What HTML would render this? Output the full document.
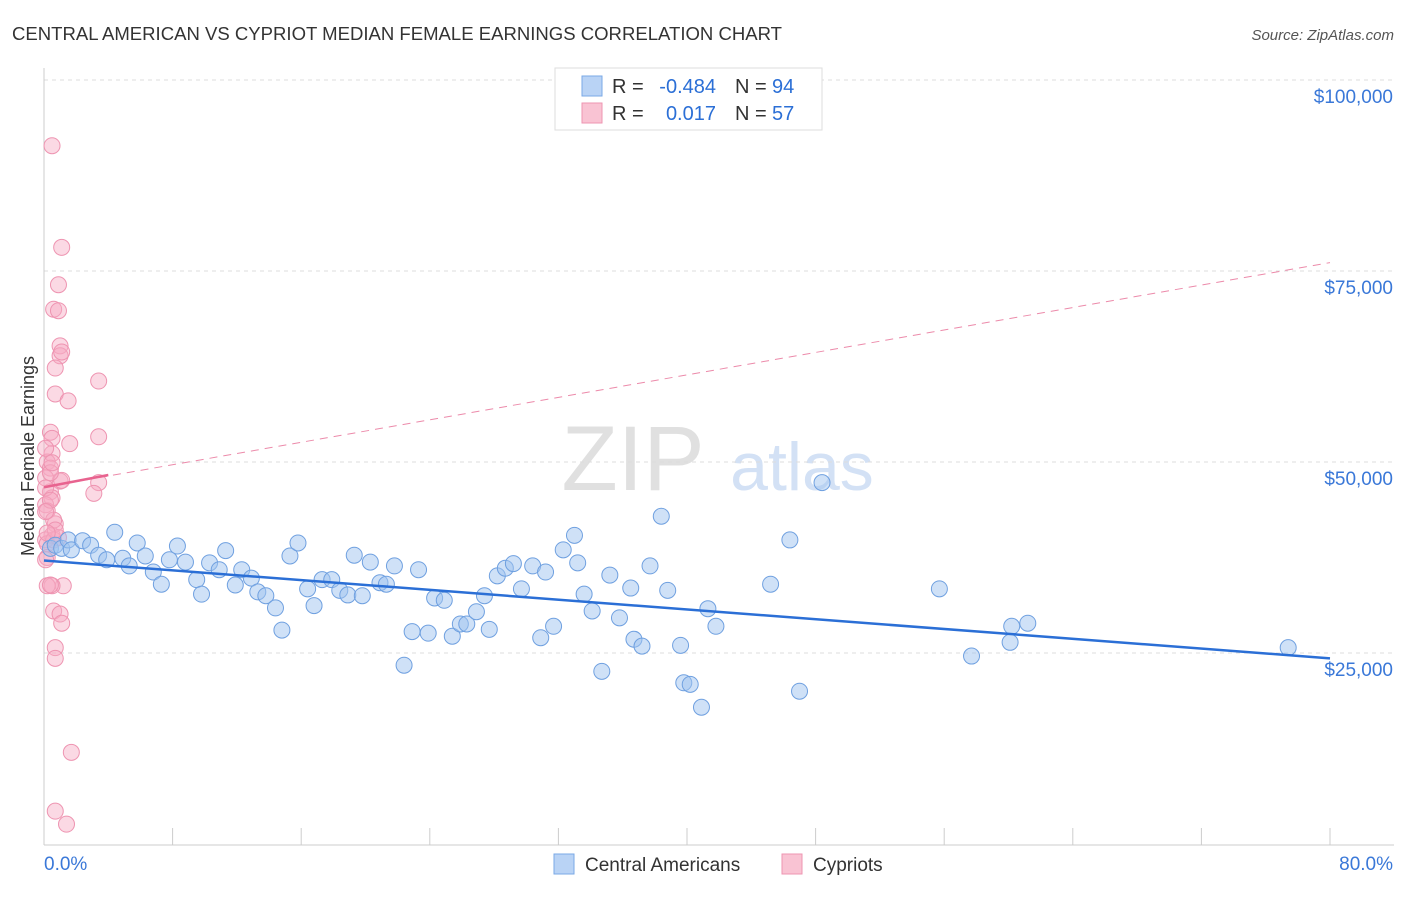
<!DOCTYPE html>
<html><head><meta charset="utf-8"><style>
body{margin:0;background:#fff;font-family:"Liberation Sans",sans-serif}
svg text{font-family:"Liberation Sans",sans-serif}
</style></head><body>
<svg id="chart" width="1406" height="892" xmlns="http://www.w3.org/2000/svg">
<text x="12" y="40" font-size="18" fill="#333" textLength="770" lengthAdjust="spacingAndGlyphs">CENTRAL AMERICAN VS CYPRIOT MEDIAN FEMALE EARNINGS CORRELATION CHART</text>
<text x="1394" y="40" font-size="15" fill="#555" text-anchor="end" font-style="italic">Source: ZipAtlas.com</text>
<text x="633" y="490" font-size="92" fill="#e0e0e0" text-anchor="middle" font-family="Liberation Serif">ZIP</text>
<text x="802" y="490" font-size="68" fill="#d3e1f5" text-anchor="middle">atlas</text>
<g id="grid"></g><g id="axes"></g><g id="trends"></g><g id="pts"></g>
<text transform="translate(34,456) rotate(-90)" font-size="18" fill="#333" text-anchor="middle">Median Female Earnings</text>
<g>
<rect x="555" y="68" width="267" height="62" fill="#fff" stroke="#ddd"/>
<rect x="582" y="76" width="20" height="20" fill="#b9d3f5" stroke="#7aa8e6"/>
<rect x="582" y="103" width="20" height="20" fill="#f9c3d3" stroke="#ee94b1"/>
<text x="612" y="93" font-size="20" fill="#333">R =</text>
<text x="716" y="93" font-size="20" fill="#2b6fd6" text-anchor="end">-0.484</text>
<text x="735" y="93" font-size="20" fill="#333">N =</text>
<text x="772" y="93" font-size="20" fill="#2b6fd6">94</text>
<text x="612" y="120" font-size="20" fill="#333">R =</text>
<text x="716" y="120" font-size="20" fill="#2b6fd6" text-anchor="end">0.017</text>
<text x="735" y="120" font-size="20" fill="#333">N =</text>
<text x="772" y="120" font-size="20" fill="#2b6fd6">57</text>
</g>
<g>
<rect x="554" y="854" width="20" height="20" fill="#b9d3f5" stroke="#7aa8e6"/>
<text x="585" y="871" font-size="19" fill="#333">Central Americans</text>
<rect x="782" y="854" width="20" height="20" fill="#f9c3d3" stroke="#ee94b1"/>
<text x="813" y="871" font-size="19" fill="#333">Cypriots</text>
</g>
</svg>
<script>
const yTicks=[25000,50000,75000,100000];
const yTickLabels=["$25,000","$50,000","$75,000","$100,000"];
const xLabels=["0.0%","80.0%"];
const blueX=[0.4,0.7,1.1,1.5,1.7,2.4,2.9,3.4,3.9,4.4,4.9,5.3,5.8,6.3,6.8,7.3,7.8,8.3,8.8,9.5,9.8,10.3,10.9,11.3,11.9,12.3,12.9,13.3,13.8,14.4,14.8,15.3,15.8,16.4,16.8,17.3,17.9,18.4,18.9,19.3,19.8,20.3,20.9,21.3,21.8,22.4,22.9,23.3,23.9,24.3,24.9,25.4,25.9,26.3,26.9,27.4,27.7,28.2,28.7,29.2,29.7,30.4,30.9,31.2,31.7,32.3,33.0,33.2,33.6,34.1,34.7,35.2,35.8,36.5,36.7,37.2,37.7,38.4,38.8,39.6,39.8,40.2,40.9,41.3,41.8,45.2,46.4,47.0,48.4,55.7,57.7,60.1,60.2,61.2,77.4];
const blueY=[38.7,39.1,38.7,39.8,38.5,39.7,39.1,37.8,37.2,40.8,37.4,36.4,39.4,37.7,35.6,34.0,37.2,39.0,36.9,34.6,32.7,36.8,35.9,38.4,33.9,35.9,34.8,33.0,32.5,30.9,28.0,37.7,39.4,33.4,31.2,34.6,34.6,33.2,32.6,37.8,32.5,36.9,34.2,34.0,36.4,23.4,27.8,35.9,27.6,32.2,31.9,27.2,28.8,28.8,30.4,32.5,28.1,35.1,36.1,36.7,33.4,36.4,27.0,35.6,28.5,38.5,40.4,36.8,32.7,30.5,22.6,35.2,29.6,33.5,26.8,25.9,36.4,42.9,33.2,26.0,21.1,20.9,17.9,30.8,28.5,34.0,39.8,20.0,47.3,33.4,24.6,26.4,28.5,28.9,25.7];
const pinkX=[0.5,1.1,0.9,0.6,0.9,1.0,1.0,1.1,0.7,0.7,1.5,3.4,0.4,0.5,1.6,3.4,0.5,0.2,0.4,1.0,3.4,3.1,0.4,0.5,0.1,0.2,0.7,0.5,0.1,0.2,0.6,1.2,0.5,0.2,0.6,1.0,1.1,0.7,0.7,1.7,0.7,1.4,0.1,0.1,0.4,0.6,0.2,0.9,0.1,0.4,1.1,0.1,0.4,0.7,0.1,0.5,0.2];
const pinkY=[91.4,78.1,73.2,70.0,69.8,65.2,63.9,64.4,62.3,58.9,58.0,60.6,53.9,53.1,52.4,53.3,51.1,50.0,49.2,47.5,47.3,45.9,46.1,45.3,44.4,43.6,41.9,40.4,39.8,39.3,39.8,33.8,33.8,33.8,30.5,30.1,28.9,25.7,24.3,12.0,4.3,2.6,47.9,46.6,45.0,42.4,37.5,40.1,37.2,33.9,47.6,51.8,48.6,41.1,43.5,49.9,40.7];
const blueTrendX=[0,80], blueTrendY=[37.1,24.3];
const pinkSolidX=[0,4], pinkSolidY=[46.7,48.3];
const pinkDashX=[0,80], pinkDashY=[46.7,76.1];
const X=p=>44+p/80*1286, Y=v=>844-v/25000*191, Yk=v=>Y(v*1000);
const NS="http://www.w3.org/2000/svg";
function mk(tag,attrs,parent){const e=document.createElementNS(NS,tag);for(const k in attrs)e.setAttribute(k,attrs[k]);document.getElementById(parent).appendChild(e);return e;}
yTicks.forEach((t,i)=>{
 const g=mk('line',{x1:44,x2:1394,y1:Y(t),y2:Y(t),stroke:'#ddd','stroke-dasharray':'4,4'},'grid');
 
 
 const l=mk('text',{x:1393,y:Y(t)+23,'font-size':19,fill:'#3a78d8','text-anchor':'end'},'axes');l.textContent=yTickLabels[i];
 
 
});
const ya=mk('line',{x1:44,x2:44,y1:68,y2:845,stroke:'#ccc'},'axes');


const xa=mk('line',{x1:44,x2:1394,y1:845,y2:845,stroke:'#ccc'},'axes');


for(let i=0;i<=10;i++){const t=mk('line',{x1:X(i*8),x2:X(i*8),y1:828,y2:845,stroke:'#ccc'},'axes');
 
 }
[[0,'start',44],[80,'end',1393]].forEach((d,i)=>{const t=mk('text',{x:d[2],y:870,'font-size':19,fill:'#3a78d8','text-anchor':d[1]},'axes');t.textContent=xLabels[i];
 
 });
const pd=mk('line',{x1:X(pinkDashX[0]),y1:Yk(pinkDashY[0]),x2:X(pinkDashX[1]),y2:Yk(pinkDashY[1]),stroke:'#ec8aaa','stroke-dasharray':'8,6','stroke-width':1},'trends');


pinkX.forEach((x,i)=>{const c=mk('circle',{cx:X(x),cy:Yk(pinkY[i]),r:8,fill:'rgba(247,170,196,0.45)',stroke:'#ee94b1','stroke-width':1},'pts');
 
 });
blueX.forEach((x,i)=>{const c=mk('circle',{cx:X(x),cy:Yk(blueY[i]),r:8,fill:'rgba(160,195,240,0.5)',stroke:'#6fa0e0','stroke-width':1},'pts');
 
 });
const bt=mk('line',{x1:X(blueTrendX[0]),y1:Yk(blueTrendY[0]),x2:X(blueTrendX[1]),y2:Yk(blueTrendY[1]),stroke:'#2b6fd6','stroke-width':2.5},'pts');


const ps=mk('line',{x1:X(pinkSolidX[0]),y1:Yk(pinkSolidY[0]),x2:X(pinkSolidX[1]),y2:Yk(pinkSolidY[1]),stroke:'#e8638f','stroke-width':2.5},'pts');


</script>
</body></html>
